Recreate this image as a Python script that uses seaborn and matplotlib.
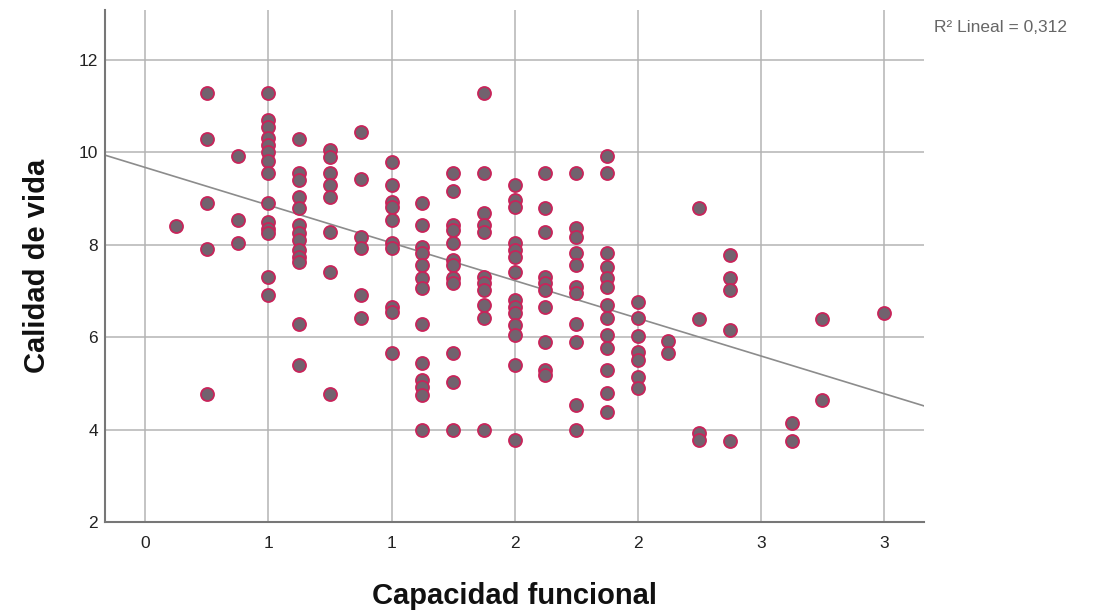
import numpy as np
import pandas as pd
import matplotlib
matplotlib.use("Agg")
import matplotlib.pyplot as plt
import seaborn as sns

# ---- data ----
col_x = [0.125, 0.25, 0.375, 0.5, 0.625, 0.75, 0.875, 1.0, 1.125, 1.25,
         1.375, 1.5, 1.625, 1.75, 1.875, 2.0, 2.125, 2.25, 2.375, 2.625,
         2.75, 3.0]
col_y = [
    [8.41],
    [11.29, 10.29, 8.91, 7.91, 4.77],
    [9.92, 8.54, 8.04],
    [11.29, 10.70, 10.55, 10.30, 10.15, 10.0, 9.80, 9.55, 8.90, 8.50, 8.35, 8.25, 7.30, 6.91],
    [10.29, 9.55, 9.40, 9.04, 8.80, 8.43, 8.25, 8.10, 7.89, 7.74, 7.63, 6.29, 5.40],
    [10.05, 9.90, 9.55, 9.30, 9.04, 8.28, 7.41, 4.77],
    [10.44, 9.42, 8.17, 7.93, 6.91, 6.42],
    [9.79, 9.30, 8.93, 8.82, 8.54, 8.04, 7.93, 6.65, 6.55, 5.66],
    [8.90, 8.43, 7.96, 7.82, 7.56, 7.28, 7.06, 6.29, 5.44, 5.07, 4.92, 4.75, 4.0],
    [9.55, 9.17, 8.43, 8.32, 8.04, 7.67, 7.56, 7.28, 7.17, 5.66, 5.03, 4.0],
    [11.29, 9.55, 8.68, 8.43, 8.28, 7.31, 7.17, 7.03, 6.70, 6.42, 4.0],
    [9.30, 8.97, 8.82, 8.04, 7.89, 7.74, 7.41, 6.80, 6.65, 6.52, 6.27, 6.05, 5.40, 3.78],
    [9.55, 8.80, 8.28, 7.31, 7.17, 7.03, 6.65, 5.90, 5.29, 5.18],
    [9.55, 8.36, 8.17, 7.82, 7.56, 7.09, 6.95, 6.29, 5.90, 4.53, 4.0],
    [9.92, 9.55, 7.82, 7.52, 7.28, 7.09, 6.70, 6.42, 6.05, 5.77, 5.29, 4.79, 4.38],
    [6.76, 6.42, 6.03, 5.68, 5.51, 5.14, 4.90],
    [5.92, 5.66],
    [8.80, 6.39, 3.92, 3.78],
    [7.78, 7.28, 7.03, 6.16, 3.76],
    [4.14, 3.76],
    [6.39, 4.64],
    [6.52],
]
# fitted linear trend (intercept, slope)
fit_intercept = 9.67
fit_slope = -1.63
x_ticks = [0, 0.5, 1.0, 1.5, 2.0, 2.5, 3.0]
x_tick_labels = ["0", "1", "1", "2", "2", "3", "3"]
y_ticks = [2, 4, 6, 8, 10, 12]
r2_label = "R\u00b2 Lineal = 0,312"
x_label = "Capacidad funcional"
y_label = "Calidad de vida"

xs, ys = [], []
for cx, cys in zip(col_x, col_y):
    for v in cys:
        xs.append(cx)
        ys.append(v)
df = pd.DataFrame({"x": xs, "y": ys})

sns.set_theme(style="white")
plt.rcParams["font.family"] = ["Liberation Sans", "DejaVu Sans"]

fig = plt.figure(figsize=(10.97, 6.15), dpi=100)
ax = fig.add_axes([0.0957, 0.151, 0.747, 0.833])

ax.set_xlim(-0.164, 3.165)
ax.set_ylim(2, 13.08)

ax.set_xticks(x_ticks)
ax.set_xticklabels(x_tick_labels)
ax.set_yticks(y_ticks)
ax.grid(True, color="#b4b4b4", linewidth=1.1)
ax.set_axisbelow(True)

ax.axline((0, fit_intercept), slope=fit_slope, color="#8c8c8c", linewidth=1.2, zorder=2)
sns.scatterplot(data=df, x="x", y="y", ax=ax, s=88, color="#72626e",
                edgecolor="#c8245a", linewidth=1.3, zorder=3, legend=False)

for side in ["top", "right"]:
    ax.spines[side].set_visible(False)
for side in ["left", "bottom"]:
    ax.spines[side].set_color("#777777")
    ax.spines[side].set_linewidth(1.5)

ax.tick_params(axis="x", length=0, labelsize=12.5, colors="#222222", pad=10)
ax.tick_params(axis="y", length=0, labelsize=12.5, colors="#222222", pad=5)
ax.set_xlabel(x_label, fontsize=21, fontweight="bold", color="#111111", labelpad=22)
ax.set_ylabel(y_label, fontsize=21, fontweight="bold", color="#111111", labelpad=20)

fig.text(0.851, 0.955, r2_label, fontsize=12.5, color="#666666", ha="left", va="center")

fig.savefig("out.png", dpi=100)
